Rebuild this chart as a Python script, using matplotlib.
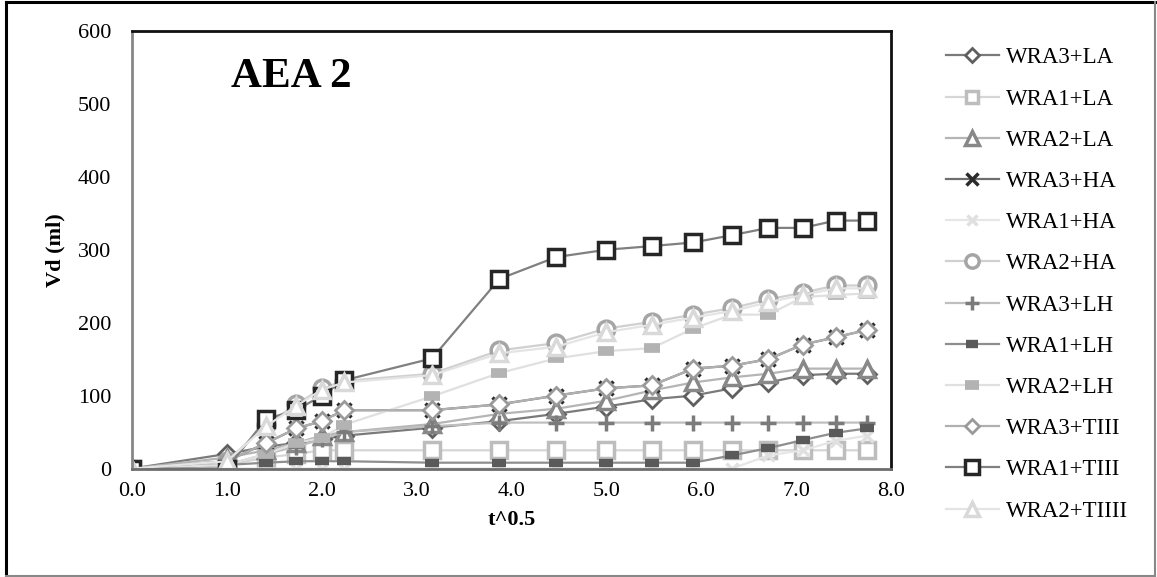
import numpy as np
import matplotlib.pyplot as plt
from matplotlib.lines import Line2D

plt.rcParams['font.family'] = ['Liberation Serif', 'DejaVu Serif']

# time in minutes, plotted as sqrt(t)
t_min = [0, 1, 2, 3, 4, 5, 10, 15, 20, 25, 30, 35, 40, 45, 50, 55, 60]
x = np.sqrt(t_min)

wra3_la = [0, 20, 30, 35, 40, 45, 56, 65, 75, 85, 95, 100, 110, 118, 128, 130, 130]
wra1_la = [0, 5, 15, 20, 25, 25, 25, 25, 25, 25, 25, 25, 25, 25, 25, 25, 25]
wra2_la = [0, 15, 25, 35, 45, 50, 61, 75, 82, 93, 107, 118, 125, 130, 137, 137, 137]
wra3_ha = [0, 10, 35, 55, 65, 80, 80, 88, 100, 110, 114, 137, 141, 150, 170, 180, 190]
wra1_ha = [0, 0, 0, 0, 0, 0, 0, 0, 0, 0, 0, 0, 0, 18, 25, 38, 45]
wra2_ha = [0, 10, 60, 88, 110, 120, 130, 162, 172, 192, 201, 211, 220, 232, 241, 251, 251]
wra3_lh = [0, 5, 20, 30, 40, 50, 58, 63, 63, 63, 63, 63, 63, 63, 63, 63, 63]
wra1_lh = [0, 5, 8, 10, 10, 10, 8, 8, 8, 8, 8, 8, 18, 28, 39, 49, 55]
wra2_lh = [0, 5, 20, 35, 42, 60, 99, 131, 151, 161, 165, 192, 211, 211, 235, 238, 240]
wra3_tiii = [0, 10, 35, 55, 65, 80, 80, 88, 100, 110, 114, 137, 141, 150, 170, 180, 190]
wra1_tiii = [0, 0, 68, 80, 100, 121, 151, 260, 290, 300, 305, 310, 320, 330, 330, 340, 340]
wra2_tiiii = [0, 10, 58, 86, 108, 118, 128, 158, 167, 187, 197, 207, 216, 228, 238, 247, 247]

series = [
    ("WRA3+LA", wra3_la, "D", "#5f5f5f", "#7a7a7a", 9, 2.0),
    ("WRA1+LA", wra1_la, "s", "#bdbdbd", "#d6d6d6", 11, 2.5),
    ("WRA2+LA", wra2_la, "^", "#888888", "#b5b5b5", 12, 2.5),
    ("WRA3+HA", wra3_ha, "x", "#2b2b2b", "#6e6e6e", 10, 2.5),
    ("WRA1+HA", wra1_ha, "x", "#e0e0e0", "#e6e6e6", 9, 2.5),
    ("WRA2+HA", wra2_ha, "o", "#a5a5a5", "#d0d0d0", 12, 2.5),
    ("WRA3+LH", wra3_lh, "+", "#7b7b7b", "#bfbfbf", 12, 2.5),
    ("WRA1+LH", wra1_lh, "_", "#5a5a5a", "#8e8e8e", 10, 6.0),
    ("WRA2+LH", wra2_lh, "_", "#b3b3b3", "#e0e0e0", 12, 7.0),
    ("WRA3+TIII", wra3_tiii, "D", "#9a9a9a", "#b0b0b0", 9, 2.0),
    ("WRA1+TIII", wra1_tiii, "s", "#262626", "#808080", 12, 2.5),
    ("WRA2+TIIII", wra2_tiiii, "^", "#d9d9d9", "#e4e4e4", 12, 2.5),
]

fig = plt.figure(figsize=(11.57, 5.77), dpi=100)
ax = fig.add_axes([0.1141, 0.1880, 0.656, 0.7583])

for name, vals, mk, mcol, lcol, ms, mew in series:
    filled = mk == "_"
    ax.plot(x, vals, color=lcol, linewidth=1.6, marker=mk, markersize=ms,
            markeredgecolor=mcol, markeredgewidth=mew,
            markerfacecolor=mcol if filled else "white", label=name)

ax.set_xlim(0, 8)
ax.set_ylim(0, 600)
ax.set_xticks(np.arange(0, 9, 1))
ax.set_xticklabels([f"{v:.1f}" for v in range(9)])
ax.set_yticks(np.arange(0, 700, 100))
ax.tick_params(length=0, labelsize=16)
ax.tick_params(axis="y", pad=15)
ax.tick_params(axis="x", pad=10)
ax.set_xlabel("t^0.5", fontsize=16, fontweight="bold", labelpad=6)
ax.set_ylabel("Vd (ml)", fontsize=16, fontweight="bold", labelpad=9)

ax.spines["left"].set_color("#868686")
ax.spines["bottom"].set_color("#6e6e6e")
ax.spines["top"].set_color("#111111")
ax.spines["right"].set_color("#111111")
for s in ax.spines.values():
    s.set_linewidth(2)

ax.text(0.21, 0.895, "AEA 2", transform=ax.transAxes, ha="center", va="center",
        fontsize=31, fontweight="bold")

ax.legend(loc="upper left", bbox_to_anchor=(0.8176, 0.918),
          bbox_transform=fig.transFigure, frameon=False, fontsize=16.5,
          handlelength=2.3, labelspacing=0.88, handletextpad=0.3,
          borderaxespad=0, borderpad=0, markerscale=0.8)

# outer chart border
fig.add_artist(Line2D([0.0052, 0.0052], [0.002, 0.9957], color="black", linewidth=2.2))
fig.add_artist(Line2D([0.0052, 0.998], [0.9957, 0.9957], color="black", linewidth=2.2))
fig.add_artist(Line2D([0.0052, 0.998], [0.002, 0.002], color="#888888", linewidth=1.5))
fig.add_artist(Line2D([0.998, 0.998], [0.002, 0.9957], color="#888888", linewidth=1.5))

fig.savefig("out.png", dpi=100)
